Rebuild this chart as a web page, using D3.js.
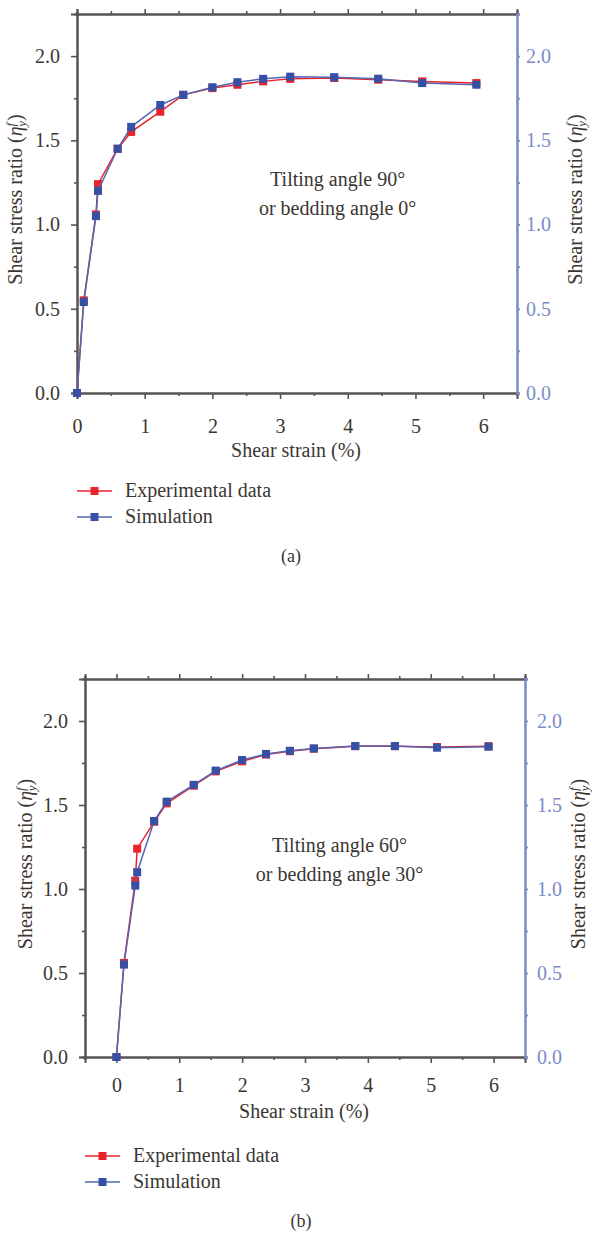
<!DOCTYPE html>
<html>
<head>
<meta charset="utf-8">
<script src="https://cdn.jsdelivr.net/npm/d3@7"></script>
<style>
  body { margin: 0; background: #fff; }
  svg { display: block; font-family: "Liberation Serif", "Times New Roman", serif; }
</style>
</head>
<body>
<svg id="chart" width="592" height="1234"></svg>
<script>
// data
const strainA = [0, 0.1, 0.28, 0.31, 0.6, 0.8, 1.23, 1.57, 2.0, 2.37, 2.75, 3.15, 3.8, 4.45, 5.1, 5.9];
const expA = [0, 0.55, 1.06, 1.24, 1.45, 1.55, 1.67, 1.77, 1.81, 1.83, 1.85, 1.865, 1.87, 1.86, 1.85, 1.84];
const simA = [0, 0.54, 1.05, 1.20, 1.45, 1.58, 1.71, 1.77, 1.815, 1.845, 1.865, 1.878, 1.875, 1.866, 1.84, 1.83];

const strainB = [0, 0.12, 0.3, 0.33, 0.6, 0.8, 1.23, 1.58, 2.0, 2.38, 2.76, 3.14, 3.8, 4.43, 5.1, 5.92];
const expB = [0, 0.56, 1.05, 1.24, 1.40, 1.51, 1.615, 1.70, 1.76, 1.80, 1.82, 1.835, 1.85, 1.85, 1.845, 1.85];
const simB = [0, 0.55, 1.02, 1.10, 1.405, 1.52, 1.62, 1.705, 1.768, 1.804, 1.823, 1.837, 1.851, 1.851, 1.841, 1.847];

const xTicks = [0, 1, 2, 3, 4, 5, 6];
const yTicks = [0, 0.5, 1.0, 1.5, 2.0];
const seriesNames = ["Experimental data", "Simulation"];
const panelLabels = ["(a)", "(b)"];
const notesA = ["Tilting angle 90°", "or bedding angle 0°"];
const notesB = ["Tilting angle 60°", "or bedding angle 30°"];

const red = "#e8232b";
const blue = "#3550a4";
const blueLine = "#5567b4";
const axisBlue = "#7b8cc9";
const dark = "#3b3632";

const svg = d3.select("#chart");

const drawPanel = (p) => {
    const x = d3.scaleLinear().domain(p.xDomain).range([p.left, p.right]);
    const y = d3.scaleLinear().domain([0, 2.25]).range([p.bottom, p.top]);
    const g = svg.append("g");

    const xMinor = d3.range(p.xDomain[0], p.xDomain[1] + 0.01, 0.5).filter(d => !xTicks.includes(d));
    const yMinor = d3.range(0.25, 2.25, 0.5);

    // bottom axis
    const bottom = g.append("g")
        .attr("transform", `translate(0,${p.bottom})`)
        .call(d3.axisBottom(x).tickValues(xTicks).tickSize(6).tickPadding(p.xPad).tickFormat(d3.format("d")));
    bottom.append("g").call(d3.axisBottom(x).tickValues(xMinor).tickSize(3).tickFormat(""));

    // top axis, no labels
    const top = g.append("g")
        .attr("transform", `translate(0,${p.top})`)
        .call(d3.axisTop(x).tickValues(xTicks).tickSize(5).tickFormat(""));
    top.append("g").call(d3.axisTop(x).tickValues(xMinor).tickSize(3).tickFormat(""));

    // left axis
    const left = g.append("g")
        .attr("transform", `translate(${p.left},0)`)
        .call(d3.axisLeft(y).tickValues(yTicks).tickSize(6).tickPadding(11).tickFormat(d3.format(".1f")));
    left.append("g").call(d3.axisLeft(y).tickValues(yMinor).tickSize(3).tickFormat(""));

    // right axis (blue)
    const right = g.append("g")
        .attr("transform", `translate(${p.right},0)`)
        .call(d3.axisRight(y).tickValues(yTicks).tickSize(3).tickPadding(p.rPad).tickFormat(d3.format(".1f")));
    right.append("g").call(d3.axisRight(y).tickValues(yMinor).tickSize(3).tickFormat(""));

    [bottom, top, left, right].forEach(a => {
        a.attr("font-family", null).attr("font-size", 20);
        a.selectAll("g").attr("font-family", null).attr("font-size", null);
    });
    [bottom, top, left].forEach(a => {
        a.selectAll("path, line").attr("stroke", "#555").attr("stroke-width", 1.6);
        a.selectAll("text").attr("fill", dark);
    });
    right.selectAll("path, line").attr("stroke", axisBlue).attr("stroke-width", 1.8);
    right.selectAll("text").attr("fill", axisBlue);
    g.selectAll(".domain").attr("stroke-width", 2);

    // series
    const series = [
        { vals: p.exp, line: red, fill: red },
        { vals: p.sim, line: blueLine, fill: blue }
    ];
    const line = d3.line().x(d => x(d[0])).y(d => y(d[1]));
    series.forEach(s => {
        const pts = p.strain.map((v, i) => [v, s.vals[i]]);
        g.append("path")
            .datum(pts)
            .attr("d", line)
            .attr("fill", "none")
            .attr("stroke", s.line)
            .attr("stroke-width", 1.5);
        g.append("g")
            .selectAll("rect")
            .data(pts)
            .join("rect")
            .attr("x", d => x(d[0]) - 4)
            .attr("y", d => y(d[1]) - 4)
            .attr("width", 8)
            .attr("height", 8)
            .attr("fill", s.fill);
    });

    // annotation
    g.append("g")
        .selectAll("text")
        .data(p.notes)
        .join("text")
        .attr("x", x(p.noteX))
        .attr("y", (d, i) => y(p.noteY) + i * 29)
        .attr("text-anchor", "middle")
        .attr("font-size", 20)
        .attr("fill", dark)
        .text(d => d);

    // x title
    g.append("text")
        .attr("x", (p.left + p.right) / 2 + p.titleShift)
        .attr("y", p.bottom + p.titleGap)
        .attr("text-anchor", "middle")
        .attr("font-size", 20)
        .attr("fill", dark)
        .text("Shear strain (%)");

    // y titles, both sides
    [p.yLabelL, p.yLabelR].forEach(lx => {
        const t = g.append("text")
            .attr("transform", `translate(${lx},${(p.top + p.bottom) / 2 - 4})rotate(-90)`)
            .attr("text-anchor", "middle")
            .attr("font-size", 20)
            .attr("fill", dark);
        t.append("tspan").text("Shear stress ratio (");
        t.append("tspan").attr("font-style", "italic").text("η");
        t.append("tspan").attr("font-style", "italic").attr("font-size", 13).attr("dy", -7).text("f");
        t.append("tspan").attr("font-style", "italic").attr("font-size", 13).attr("dx", -4).attr("dy", 11).text("y");
        t.append("tspan").attr("dy", -4).text(")");
    });

    // legend
    const lg = g.append("g");
    series.forEach((s, i) => {
        const ly = p.legendY + i * 26;
        lg.append("line")
            .attr("x1", p.left).attr("x2", p.left + 35)
            .attr("y1", ly).attr("y2", ly)
            .attr("stroke", s.line).attr("stroke-width", 1.5);
        lg.append("rect")
            .attr("x", p.left + 17.5 - 4).attr("y", ly - 4)
            .attr("width", 8).attr("height", 8)
            .attr("fill", s.fill);
        lg.append("text")
            .attr("x", p.left + 48).attr("y", ly + 6)
            .attr("font-size", 20)
            .attr("fill", dark)
            .text(seriesNames[i]);
    });

    // panel label
    g.append("text")
        .attr("x", p.tagX)
        .attr("y", p.tagY)
        .attr("text-anchor", "middle")
        .attr("font-size", 18)
        .attr("fill", dark)
        .text(p.tag);
};

drawPanel({
    left: 77, right: 517, top: 14, bottom: 393,
    xDomain: [0, 6.5], xPad: 20, rPad: 6,
    strain: strainA, exp: expA, sim: simA,
    notes: notesA, noteX: 3.85, noteY: 1.23,
    titleShift: -1, titleGap: 64,
    yLabelL: 22, yLabelR: 582,
    legendY: 491, tagX: 291, tagY: 562, tag: panelLabels[0]
});

drawPanel({
    left: 85, right: 525, top: 679, bottom: 1057,
    xDomain: [-0.5, 6.5], xPad: 15, rPad: 9,
    strain: strainB, exp: expB, sim: simB,
    notes: notesB, noteX: 3.55, noteY: 1.22,
    titleShift: -1, titleGap: 61,
    yLabelL: 32, yLabelR: 585,
    legendY: 1156, tagX: 301, tagY: 1227, tag: panelLabels[1]
});
</script>
</body>
</html>
